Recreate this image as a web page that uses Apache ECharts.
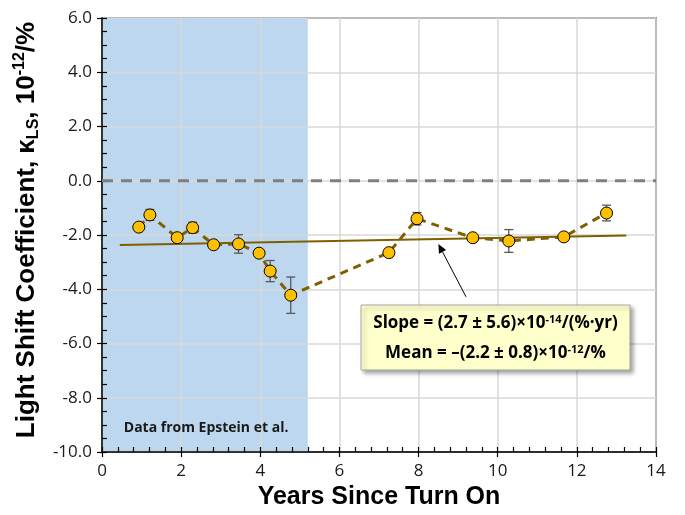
<!DOCTYPE html>
<html>
<head>
<meta charset="utf-8">
<script src="https://cdn.jsdelivr.net/npm/echarts@6/dist/echarts.min.js"></script>
<style>
html,body{margin:0;padding:0;background:#fff;}
#c{width:685px;height:515px;}
</style>
</head>
<body>
<div id="c"></div>
<script>
// ---- data ----
const years = [0.93, 1.21, 1.90, 2.29, 2.82, 3.45, 3.97, 4.25, 4.77, 7.25, 7.96, 9.37, 10.28, 11.67, 12.75];
const kappa = [-1.71, -1.26, -2.10, -1.73, -2.36, -2.33, -2.67, -3.33, -4.22, -2.65, -1.40, -2.10, -2.22, -2.07, -1.19];
const kappaErr = [null, 0.20, null, 0.20, null, 0.34, null, 0.39, 0.67, null, 0.23, null, 0.42, null, 0.29];
const fitX = [0.45, 13.25];
const fitY = [-2.37, -2.02];
const epsteinRange = [0, 5.2];
const xTicks = [0, 2, 4, 6, 8, 10, 12, 14];
const yTicks = [-10, -8, -6, -4, -2, 0, 2, 4, 6];
const zeroLineX = [0, 14];

const pts = years.map((x, i) => [x, kappa[i]]);
const errData = [];
years.forEach((x, i) => { if (kappaErr[i] != null) errData.push([x, kappa[i] - kappaErr[i], kappa[i] + kappaErr[i]]); });

const chart = echarts.init(document.getElementById('c'));
const tickFont = '"Open Sans", "Liberation Sans", sans-serif';
const labelFont = '"Liberation Sans", Arial, sans-serif';

const xBase = { type: 'value', min: xTicks[0], max: xTicks[xTicks.length - 1], interval: 2 };
const yBase = { type: 'value', min: yTicks[0], max: yTicks[yTicks.length - 1], interval: 2 };

const option = {
  animation: false,
  grid: { left: 102, right: 29, top: 18, bottom: 63, show: true, borderColor: '#333', borderWidth: 1.5, backgroundColor: 'transparent' },
  xAxis: [
    Object.assign({}, xBase, {
      axisLine: { show: true, onZero: false, lineStyle: { color: '#000', width: 1.5 } },
      axisTick: { show: true, inside: true, length: 5, lineStyle: { color: '#000', width: 1.2 } },
      minorTick: { show: true, splitNumber: 5, length: 5, lineStyle: { color: '#000', width: 1.2 } },
      splitLine: { show: true, lineStyle: { color: '#d9d9d9', width: 1.5 } },
      axisLabel: { color: '#1a1a1a', fontSize: 17, fontFamily: tickFont, margin: 11 },
      z: 3
    }),
    Object.assign({}, xBase, {
      position: 'bottom', z: 3,
      axisLine: { show: false, onZero: false },
      axisTick: { show: true, inside: false, length: 5, lineStyle: { color: '#000', width: 1.2 } },
      splitLine: { show: false },
      axisLabel: { show: false }
    })
  ],
  yAxis: [
    Object.assign({}, yBase, {
      axisLine: { show: true, onZero: false, lineStyle: { color: '#000', width: 1.5 } },
      axisTick: { show: true, inside: true, length: 5, lineStyle: { color: '#000', width: 1.2 } },
      minorTick: { show: true, splitNumber: 4, length: 5, lineStyle: { color: '#000', width: 1.2 } },
      splitLine: { show: true, lineStyle: { color: '#d9d9d9', width: 1.5 } },
      axisLabel: { color: '#1a1a1a', fontSize: 17, fontFamily: tickFont, margin: 10, formatter: v => v.toFixed(1) },
      z: 3
    }),
    Object.assign({}, yBase, {
      position: 'left', z: 3,
      axisLine: { show: false, onZero: false },
      axisTick: { show: true, inside: false, length: 5, lineStyle: { color: '#000', width: 1.2 } },
      splitLine: { show: false },
      axisLabel: { show: false }
    })
  ],
  series: [
    {
      type: 'line', data: [], z: 1, silent: true,
      markArea: {
        silent: true, z: 1,
        itemStyle: { color: '#bdd7ee' },
        data: [[{ xAxis: epsteinRange[0], yAxis: yTicks[0] }, { xAxis: epsteinRange[1], yAxis: yTicks[yTicks.length - 1] }]]
      }
    },
    {
      type: 'line', data: zeroLineX.map(x => [x, 0]), symbol: 'none', z: 4, silent: true,
      lineStyle: { color: '#7f7f7f', width: 3, type: [11, 8] }
    },
    {
      type: 'line', data: fitX.map((x, i) => [x, fitY[i]]), symbol: 'none', z: 5,
      lineStyle: { color: '#7f6000', width: 2 }
    },
    {
      type: 'custom', z: 6,
      renderItem: function (params, api) {
        const x = api.value(0);
        const p1 = api.coord([x, api.value(1)]);
        const p2 = api.coord([x, api.value(2)]);
        const w = 4.5;
        const st = { stroke: '#595959', lineWidth: 1.3 };
        return {
          type: 'group', children: [
            { type: 'line', shape: { x1: p1[0], y1: p1[1], x2: p2[0], y2: p2[1] }, style: st },
            { type: 'line', shape: { x1: p1[0] - w, y1: p1[1], x2: p1[0] + w, y2: p1[1] }, style: st },
            { type: 'line', shape: { x1: p2[0] - w, y1: p2[1], x2: p2[0] + w, y2: p2[1] }, style: st }
          ]
        };
      },
      encode: { x: 0, y: [1, 2] },
      data: errData
    },
    {
      type: 'line', data: pts, z: 7,
      symbol: 'circle', symbolSize: 12,
      lineStyle: { color: '#7f6000', width: 3, type: [8, 6] },
      itemStyle: { color: '#ffc000', borderColor: '#000', borderWidth: 1 }
    }
  ]
};
chart.setOption(option);

// arrow, annotation box and labels
const aStart = chart.convertToPixel({ gridIndex: 0 }, [9.2, -4.28]);
const aEnd = chart.convertToPixel({ gridIndex: 0 }, [8.5, -2.33]);
const ang = Math.atan2(aEnd[1] - aStart[1], aEnd[0] - aStart[0]);
const hl = 9, hw = 4;
const bx = aEnd[0] - hl * Math.cos(ang), by = aEnd[1] - hl * Math.sin(ang);
const head = [
  aEnd,
  [bx + hw * Math.sin(ang), by - hw * Math.cos(ang)],
  [bx - hw * Math.sin(ang), by + hw * Math.cos(ang)]
];
const epsLabel = chart.convertToPixel({ gridIndex: 0 }, [0.55, -9.1]);

const boxL = 361, boxT = 305, boxW = 269, boxH = 65;
const supStyle = { fontSize: 11, fontWeight: 'bold', fontFamily: tickFont, color: '#000', verticalAlign: 'top', lineHeight: 18 };
const mainStyle = { fontSize: 17, fontWeight: 'bold', fontFamily: tickFont, color: '#000', lineHeight: 18 };

chart.setOption({
  graphic: [
    { type: 'text', z: 51, x: epsLabel[0], y: epsLabel[1],
      style: { text: 'Data from Epstein et al.', align: 'left', verticalAlign: 'middle', fontSize: 14, fontWeight: 'bold', fontFamily: tickFont, fill: '#1a1a1a' } },
    { type: 'line', z: 50, shape: { x1: aStart[0], y1: aStart[1], x2: bx, y2: by }, style: { stroke: '#000', lineWidth: 1 } },
    { type: 'polygon', z: 50, shape: { points: head }, style: { fill: '#000' } },
    { type: 'rect', z: 50, shape: { x: boxL, y: boxT, width: boxW, height: boxH },
      style: { fill: '#ffffcc', stroke: '#a6a6a6', lineWidth: 1, shadowBlur: 4, shadowOffsetX: 3, shadowOffsetY: 3, shadowColor: 'rgba(0,0,0,0.35)' } },
    { type: 'text', z: 51, x: boxL + boxW / 2, y: boxT + 18,
      style: { text: '{m|Slope = (2.7 ± 5.6)×10}{s|-14}{m|/(%·yr)}', align: 'center', verticalAlign: 'middle', rich: { m: mainStyle, s: supStyle } } },
    { type: 'text', z: 51, x: boxL + boxW / 2, y: boxT + 48,
      style: { text: '{m|Mean = –(2.2 ± 0.8)×10}{s|-12}{m|/%}', align: 'center', verticalAlign: 'middle', rich: { m: mainStyle, s: supStyle } } },
    { type: 'text', z: 51, x: 27, y: 230, rotation: Math.PI / 2,
      style: { text: '{m|Light Shift Coefficient, κ}{sub|LS}{m|, 10}{sup|-12}{m|/%}', align: 'center', verticalAlign: 'middle',
        rich: {
          m: { fontSize: 26, fontWeight: 'bold', fontFamily: labelFont, color: '#000', lineHeight: 30 },
          sub: { fontSize: 16, fontWeight: 'bold', fontFamily: labelFont, color: '#000', verticalAlign: 'bottom', lineHeight: 30 },
          sup: { fontSize: 16, fontWeight: 'bold', fontFamily: labelFont, color: '#000', verticalAlign: 'top', lineHeight: 30 }
        } } },
    { type: 'text', z: 51, x: 379, y: 497,
      style: { text: 'Years Since Turn On', align: 'center', verticalAlign: 'middle', fontSize: 25, fontWeight: 'bold', fontFamily: labelFont, fill: '#000' } }
  ]
});
</script>
</body>
</html>
